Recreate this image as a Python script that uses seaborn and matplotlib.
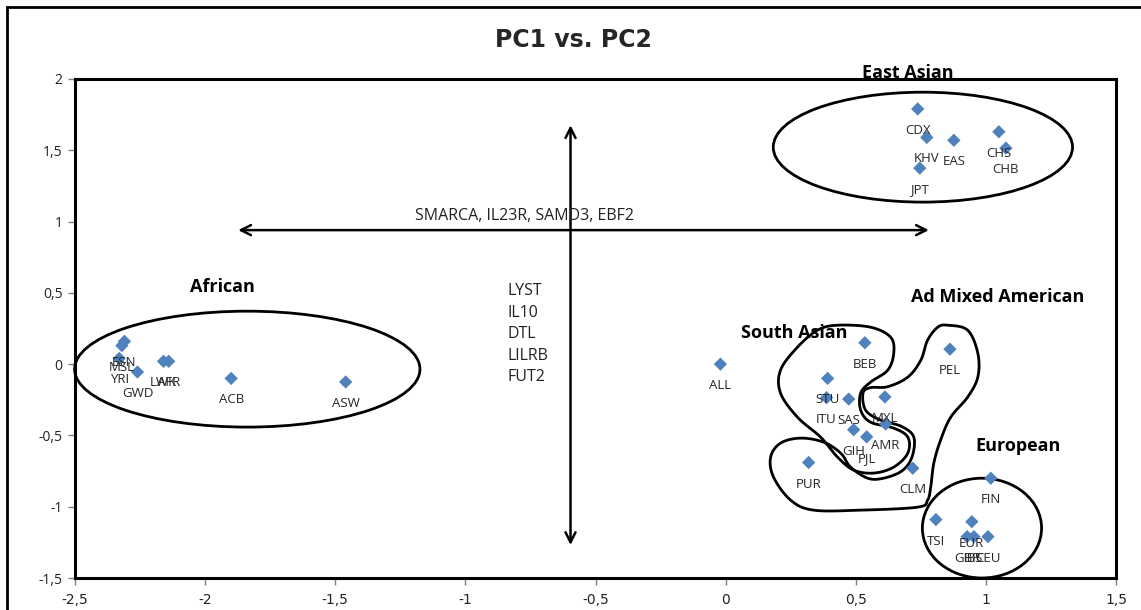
import numpy as np
import pandas as pd
import matplotlib
matplotlib.use("Agg")
import matplotlib.pyplot as plt
from matplotlib.patches import Ellipse, Polygon, Rectangle
from matplotlib.ticker import FuncFormatter
import seaborn as sns

# ---------------- data ----------------
populations = ["ESN", "MSL", "YRI", "GWD", "LWK", "AFR", "ACB", "ASW",
               "ALL",
               "BEB", "STU", "ITU", "SAS", "GIH", "PJL",
               "MXL", "AMR", "PEL", "PUR", "CLM",
               "FIN", "TSI", "EUR", "GBR", "IBS", "CEU",
               "CDX", "KHV", "EAS", "CHS", "CHB", "JPT"]
pc1 = [-2.31, -2.32, -2.33, -2.26, -2.16, -2.14, -1.90, -1.46,
       -0.02,
       0.535, 0.392, 0.388, 0.473, 0.492, 0.542,
       0.612, 0.615, 0.862, 0.319, 0.719,
       1.019, 0.808, 0.946, 0.928, 0.954, 1.008,
       0.738, 0.773, 0.877, 1.050, 1.077, 0.746]
pc2 = [0.16, 0.13, 0.04, -0.055, 0.02, 0.02, -0.10, -0.125,
       0.0,
       0.15, -0.10, -0.235, -0.245, -0.46, -0.51,
       -0.23, -0.42, 0.105, -0.69, -0.73,
       -0.80, -1.09, -1.105, -1.21, -1.21, -1.21,
       1.79, 1.59, 1.57, 1.63, 1.515, 1.375]

group_names = ["African", "South Asian", "Ad Mixed American", "European", "East Asian"]
pc1_genes = ["SMARCA", "IL23R", "SAMD3", "EBF2"]
pc2_genes = ["LYST", "IL10", "DTL", "LILRB", "FUT2"]
x_ticks = [-2.5, -2.0, -1.5, -1.0, -0.5, 0.0, 0.5, 1.0, 1.5]
y_ticks = [-1.5, -1.0, -0.5, 0.0, 0.5, 1.0, 1.5, 2.0]

df = pd.DataFrame({"PC1": pc1, "PC2": pc2, "pop": populations})

# ---------------- figure ----------------
sns.set_style("white")
plt.rcParams["font.family"] = ["Open Sans", "DejaVu Sans"]

W, H = 1141, 610
fig = plt.figure(figsize=(W / 100, H / 100), dpi=100)
ax = fig.add_axes([75 / W, 1 - 578 / H, (1116 - 75) / W, (578 - 79) / H])

sns.scatterplot(data=df, x="PC1", y="PC2", marker="D", s=46, color="#4F81BD",
                edgecolor="none", linewidth=0, ax=ax, zorder=4, legend=False)

for name, x, y in zip(df["pop"], df["PC1"], df["PC2"]):
    ax.annotate(name, (x, y), xytext=(0, -15.5), textcoords="offset points",
                ha="center", va="center", fontsize=9.5, color="#262626", zorder=5)

ax.set_xlim(-2.5, 1.5)
ax.set_ylim(-1.5, 2.0)
ax.set_xticks(x_ticks)
ax.set_yticks(y_ticks)
fmt = FuncFormatter(lambda v, p: f"{v:g}".replace(".", ","))
ax.xaxis.set_major_formatter(fmt)
ax.yaxis.set_major_formatter(fmt)
ax.set_xlabel("")
ax.set_ylabel("")
ax.tick_params(axis="both", direction="out", length=5, width=1, color="#808080",
               labelsize=10, labelcolor="#222222", pad=4)
ax.tick_params(axis="x", pad=6)
for lab in ax.get_xticklabels():
    lab.set_family(["Liberation Sans Narrow", "DejaVu Sans"])
for s in ax.spines.values():
    s.set_visible(True)
    s.set_color("black")
    s.set_linewidth(2.2)
ax.tick_params(left=True, bottom=True)

# ---------------- annotation shapes ----------------
def smooth_closed(pts, n=24):
    P = np.asarray(pts, dtype=float)
    N = len(P)
    t = np.linspace(0, 1, n, endpoint=False)[:, None]
    out = []
    for i in range(N):
        p0, p1, p2, p3 = P[(i - 1) % N], P[i], P[(i + 1) % N], P[(i + 2) % N]
        out.append(0.5 * (2 * p1 + (-p0 + p2) * t + (2 * p0 - 5 * p1 + 4 * p2 - p3) * t ** 2
                          + (-p0 + 3 * p1 - 3 * p2 + p3) * t ** 3))
    return np.vstack(out)

lw_shape = 2.0
for (cx, cy, w, h) in [(-1.838, -0.035, 1.327, 0.813),
                       (0.758, 1.522, 1.15, 0.771),
                       (0.985, -1.15, 0.458, 0.70)]:
    ax.add_patch(Ellipse((cx, cy), w, h, fill=False, ec="black", lw=lw_shape, zorder=3,
                         clip_on=False))

sas_outline = np.array([
    (0.442, 0.273), (0.569, 0.259), (0.646, 0.189), (0.658, 0.077), (0.635, -0.042),
    (0.569, -0.126), (0.531, -0.203), (0.531, -0.323), (0.569, -0.407), (0.658, -0.449),
    (0.712, -0.512), (0.712, -0.624), (0.658, -0.722), (0.581, -0.764), (0.504, -0.743),
    (0.442, -0.652), (0.377, -0.512), (0.288, -0.372), (0.223, -0.203), (0.223, -0.042),
    (0.288, 0.119), (0.365, 0.238)]) - [0.012, 0]
amr_outline = np.array([
    (0.865, 0.273), (0.942, 0.238), (0.981, 0.077), (0.981, -0.091), (0.942, -0.231),
    (0.877, -0.372), (0.838, -0.533), (0.812, -0.694), (0.800, -0.863), (0.788, -0.954),
    (0.750, -1.003), (0.531, -1.024), (0.350, -1.024), (0.262, -0.954), (0.196, -0.792),
    (0.185, -0.652), (0.223, -0.554), (0.300, -0.519), (0.388, -0.547), (0.454, -0.624),
    (0.492, -0.722), (0.558, -0.800), (0.619, -0.800), (0.690, -0.748), (0.728, -0.652),
    (0.735, -0.512), (0.688, -0.437), (0.608, -0.393), (0.550, -0.323), (0.540, -0.203),
    (0.569, -0.165), (0.635, -0.158), (0.712, -0.091), (0.762, 0.028), (0.788, 0.168),
    (0.827, 0.259)]) - [0.012, 0]
for outline in (sas_outline, amr_outline):
    ax.add_patch(Polygon(smooth_closed(outline), closed=True, fill=False, ec="black",
                         lw=lw_shape, zorder=3))

# ---------------- arrows & texts ----------------
ax.annotate("", xy=(-1.873, 0.94), xytext=(0.781, 0.94),
            arrowprops=dict(arrowstyle="<->", lw=1.8, color="black",
                            shrinkA=0, shrinkB=0, mutation_scale=18), zorder=3)
ax.annotate("", xy=(-0.596, 1.676), xytext=(-0.596, -1.269),
            arrowprops=dict(arrowstyle="<->", lw=1.8, color="black",
                            shrinkA=0, shrinkB=0, mutation_scale=18), zorder=3)
ax.text(-1.192, 1.04, ", ".join(pc1_genes), ha="left", va="center", fontsize=11.5,
        color="#222222", zorder=5)
ax.text(-0.838, 0.21, "\n".join(pc2_genes), ha="left", va="center", fontsize=11.5,
        color="#222222", linespacing=1.45, zorder=5)

group_pos = [(-1.935, 0.54), (0.265, 0.217), (1.046, 0.47), (1.123, -0.575), (0.70, 2.04)]
for name, (gx, gy) in zip(group_names, group_pos):
    ax.text(gx, gy, name, ha="center", va="center", fontsize=13, fontweight="bold",
            color="black", zorder=6, clip_on=False)

fig.text(573 / W, 1 - 40 / H, "PC1 vs. PC2", ha="center", va="center", fontsize=17,
         fontweight="bold", family=["Liberation Sans Narrow", "DejaVu Sans"])

# outer chart border
fig.patches.append(Rectangle((7 / W, -0.05), 1.2, 1 - 7 / H + 0.05, transform=fig.transFigure,
                             fill=False, ec="black", lw=2.0, zorder=0))

fig.savefig("out.png", dpi=100)
